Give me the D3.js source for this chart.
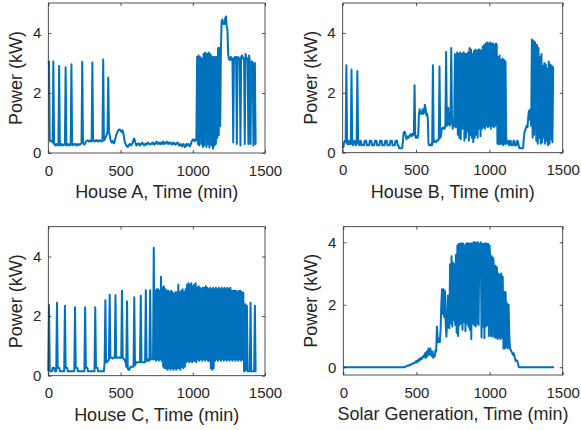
<!DOCTYPE html>
<html><head><meta charset="utf-8">
<script src="https://cdn.jsdelivr.net/npm/d3@7"></script>
<style>body{margin:0;background:#fff}svg{display:block}</style>
</head><body>
<script>
// sampling step of every series (minutes)
const timeStepMin = 5;
const xTicks = [0, 500, 1000, 1500];
const yTicks = [0, 2, 4];
const yLabel = "Power (kW)";
const panelTitles = ["House A, Time (min)", "House B, Time (min)", "House C, Time (min)", "Solar Generation, Time (min)"];

// one value every 5 min, t = 0 ... 1440 (each row = 1 hour)
const houseA = [
3.0,3.05,0.4,0.42,0.4,0.38,0.35,3.06,0.3,0.28,0.25,0.3,
0.28,0.25,0.3,2.9,0.27,0.25,0.3,0.28,0.25,0.26,0.3,0.28,
2.86,0.25,0.27,0.3,0.28,0.25,0.3,0.27,2.96,0.28,0.26,0.3,
0.28,0.3,0.27,0.25,0.3,0.28,0.26,0.3,0.28,0.3,0.33,3.04,
0.35,0.3,0.28,0.32,0.38,0.4,0.42,0.4,0.38,0.42,0.4,0.38,
0.4,3.02,0.42,0.4,0.38,0.42,0.4,0.43,0.4,0.38,0.42,0.4,
0.42,0.4,0.38,0.42,3.12,0.42,0.45,0.5,0.55,0.62,0.72,2.52,
0.7,0.6,0.45,0.38,0.35,0.4,0.35,0.32,0.4,0.5,0.6,0.65,
0.72,0.75,0.78,0.78,0.75,0.72,0.7,0.75,0.65,0.5,0.35,0.3,
0.25,0.22,0.2,0.25,0.28,0.3,0.25,0.28,0.3,0.35,0.45,0.48,
0.4,0.3,0.25,0.3,0.28,0.32,0.3,0.25,0.28,0.32,0.35,0.3,
0.28,0.25,0.3,0.32,0.28,0.3,0.35,0.32,0.3,0.28,0.3,0.33,
0.3,0.35,0.32,0.28,0.3,0.35,0.38,0.33,0.3,0.35,0.32,0.3,
0.35,0.33,0.3,0.38,0.35,0.3,0.32,0.35,0.38,0.33,0.3,0.35,
0.32,0.35,0.3,0.28,0.33,0.35,0.3,0.32,0.28,0.3,0.33,0.35,
0.3,0.25,0.28,0.3,0.25,0.22,0.28,0.3,0.25,0.2,0.22,0.3,
0.25,0.28,0.3,0.25,0.22,0.28,0.35,0.4,0.45,0.42,0.45,0.4,
0.42,0.45,3.2,0.3,3.25,0.25,3.2,3.18,0.3,3.15,0.2,3.3,
0.25,3.35,3.3,0.2,3.3,0.3,3.35,0.18,3.3,3.25,0.25,3.2,
0.15,3.2,0.25,3.2,0.3,3.2,0.5,3.5,0.6,3.5,0.9,3.55,
4.4,4.45,4.3,4.35,4.3,4.5,4.55,4.2,4.1,3.3,3.15,3.1,
3.15,3.2,3.1,3.15,0.35,3.1,3.2,3.15,3.2,0.3,3.1,3.2,
3.15,3.1,0.25,3.2,3.25,3.2,3.15,3.1,0.3,3.3,3.2,3.15,
3.1,0.3,3.25,3.05,0.3,3.0,3.05,3.0,0.25,2.95,3.0,0.3,
0.3];

const houseB = [
0.15,0.2,0.35,0.4,0.35,2.92,0.3,0.28,0.4,0.3,0.28,0.3,
2.78,0.3,0.25,0.38,0.4,0.3,0.25,0.3,2.73,0.4,0.3,0.25,
0.4,0.38,0.25,0.25,0.25,0.25,0.4,0.4,0.4,0.25,0.25,0.25,
0.25,0.4,0.4,0.4,0.25,0.25,0.25,0.25,0.4,0.4,0.4,0.25,
0.25,0.25,0.25,0.4,0.4,0.4,0.25,0.25,0.25,0.25,0.4,0.4,
0.4,0.25,0.25,0.25,0.25,0.4,0.4,0.4,0.25,0.25,0.25,0.25,
0.4,0.4,0.4,0.25,0.25,0.15,0.15,0.15,0.15,0.15,0.35,0.65,
0.7,0.68,0.55,0.45,0.5,0.55,0.5,0.55,0.6,0.62,0.55,0.6,
0.65,0.6,2.25,0.55,0.5,0.55,0.5,0.6,1.3,1.45,1.3,1.35,
1.3,1.45,1.3,1.35,1.6,1.5,1.25,1.3,1.15,0.3,0.25,0.25,
0.25,0.3,0.25,2.92,0.35,0.4,0.38,0.35,0.4,0.42,0.4,0.45,
2.88,0.5,0.55,0.8,0.82,0.8,0.85,0.8,0.9,3.37,0.9,1.0,
1.5,0.95,0.9,1.0,3.5,1.2,0.8,1.0,0.9,3.3,0.85,1.0,
3.35,0.6,3.3,0.5,3.35,0.45,3.3,0.8,3.3,3.35,0.4,3.3,
0.5,3.3,0.7,3.35,0.4,3.5,0.6,3.45,0.5,3.3,0.35,3.4,
0.5,3.45,0.6,3.4,0.5,3.45,0.8,3.45,0.55,3.4,0.8,3.55,
0.85,3.6,0.8,3.65,0.9,3.68,0.85,3.65,0.9,3.68,0.8,3.65,
0.9,3.65,0.85,3.6,0.9,3.65,3.6,0.3,3.2,0.28,3.25,0.3,
3.1,0.3,3.15,0.25,3.1,0.3,3.05,0.3,0.35,0.4,0.3,0.25,
0.4,0.4,0.25,0.25,0.25,0.4,0.4,0.25,0.25,0.25,0.4,0.38,
0.25,0.15,0.15,0.15,0.15,0.15,0.15,0.5,0.7,0.75,0.85,0.9,
0.85,1.2,1.4,1.1,1.45,0.9,3.78,0.5,3.75,0.6,3.7,3.6,
0.4,3.6,0.3,3.5,0.5,3.2,0.3,3.3,0.35,2.9,0.5,3.0,
0.3,2.95,0.4,2.8,0.25,3.05,0.3,2.95,0.45,2.9,0.35,2.85,
2.85];

const houseC = [
0.15,2.37,0.15,0.15,0.15,0.15,0.27,0.27,0.27,0.15,0.15,0.15,
2.45,0.27,0.27,0.27,0.15,0.15,0.15,0.15,0.15,0.15,0.15,2.35,
0.27,0.27,0.27,0.15,0.15,0.15,0.15,0.15,0.15,0.15,0.15,0.15,
0.15,2.3,0.27,0.27,0.27,0.15,0.15,0.15,0.15,0.15,0.15,0.15,
0.15,0.15,0.15,2.3,0.27,0.27,0.27,0.15,0.15,0.15,0.15,0.15,
0.15,0.15,0.15,0.15,0.15,2.3,0.27,0.27,0.27,0.15,0.15,0.15,
0.15,0.15,0.15,0.15,0.15,0.15,0.45,2.53,0.45,0.45,0.5,0.5,
0.55,2.72,0.6,0.6,0.6,0.58,0.6,0.6,0.6,2.7,0.6,0.62,
0.6,0.6,0.62,0.6,0.6,0.6,2.85,0.6,0.58,0.55,0.5,0.45,
0.3,2.5,0.25,0.2,0.2,0.25,0.3,0.3,0.3,0.3,0.3,2.63,
0.35,0.4,0.45,0.45,0.45,0.45,0.45,0.45,2.68,0.45,0.45,0.45,
0.45,0.45,0.45,2.87,0.5,0.5,0.55,0.5,0.5,2.87,0.55,0.55,
0.55,0.55,4.29,0.55,2.85,0.5,2.9,0.55,2.9,0.5,2.85,0.55,
3.32,0.5,2.95,0.3,3.0,0.25,2.9,0.25,2.85,0.2,2.85,0.25,
2.8,0.2,2.85,0.25,2.8,0.2,2.75,0.25,2.8,0.2,2.8,0.25,
3.05,0.25,2.8,0.2,2.85,0.3,2.9,0.25,2.8,0.3,2.9,0.45,
3.05,0.5,3.1,0.45,3.05,0.5,3.1,0.45,3.0,0.5,3.05,0.5,
3.1,0.45,2.95,0.55,3.0,0.5,2.95,0.55,2.9,0.5,2.95,0.55,
2.95,0.5,3.0,0.55,2.95,0.5,2.9,0.5,2.95,0.25,2.9,0.2,
2.95,0.25,2.9,0.5,2.95,0.55,2.9,0.5,2.95,0.55,2.9,0.5,
2.95,0.55,2.9,0.5,2.95,0.55,2.9,0.5,2.95,0.55,2.9,0.5,
2.95,0.55,2.85,0.5,2.85,0.55,2.85,0.5,2.85,0.55,2.8,0.5,
2.85,0.55,2.85,0.5,2.8,0.55,2.78,0.15,0.15,2.4,0.2,2.35,
0.15,0.15,0.15,0.15,2.45,0.15,0.15,0.15,0.15,0.15,2.35,0.15,
0.15];

const solarGen = [
0,0,0,0,0,0,0,0,0,0,0,0,
0,0,0,0,0,0,0,0,0,0,0,0,
0,0,0,0,0,0,0,0,0,0,0,0,
0,0,0,0,0,0,0,0,0,0,0,0,
0,0,0,0,0,0,0,0,0,0,0,0,
0,0,0,0,0,0,0,0,0,0,0,0,
0,0,0,0,0,0,0,0,0,0,0,0,
0,0.02,0.03,0.05,0.05,0.06,0.05,0.08,0.07,0.1,0.1,0.12,
0.13,0.12,0.15,0.18,0.2,0.15,0.22,0.25,0.2,0.28,0.3,0.25,
0.3,0.35,0.32,0.4,0.45,0.3,0.5,0.35,0.55,0.6,0.4,0.6,
0.45,0.35,0.5,0.3,0.4,0.35,0.55,0.5,1.3,0.95,0.8,0.9,
0.8,1.2,2.0,2.5,1.7,2.5,1.6,2.45,1.4,0.98,1.5,2.3,
1.3,1.25,3.3,1.4,3.55,1.3,3.35,1.5,3.3,1.35,3.6,1.1,
3.9,1.0,3.95,1.35,3.95,1.4,3.97,1.2,3.95,1.45,3.9,1.15,
3.95,1.4,3.98,1.3,3.95,1.2,3.97,0.9,3.95,1.4,4.0,1.35,
4.0,1.3,3.98,1.4,4.0,1.35,3.95,2.9,4.0,0.95,3.95,1.3,
3.95,0.93,3.97,1.3,3.95,1.35,3.95,1.0,3.9,3.5,1.0,3.55,
0.98,3.5,3.2,0.95,3.25,0.95,3.2,0.9,3.0,0.95,2.95,0.9,
3.0,0.95,2.9,0.6,2.42,0.6,2.4,0.65,2.05,0.6,2.0,1.0,
0.6,0.55,0.5,0.45,0.4,0.45,0.35,0.25,0.2,0.22,0.2,0.1,
0,0,0,0,0,0,0,0,0,0,0,0,
0,0,0,0,0,0,0,0,0,0,0,0,
0,0,0,0,0,0,0,0,0,0,0,0,
0,0,0,0,0,0,0,0,0,0,0,0,
0];

const series = [houseA, houseB, houseC, solarGen];
const yDomains = [[0,5],[0,5],[0,5],[-0.25,4.5]];

// layout (pixels)
const layout = [
  {left:48.3, right:265, top:3, bottom:153},
  {left:342.7, right:562.7, top:3, bottom:152.7},
  {left:48.3, right:265, top:226.7, bottom:375.7},
  {left:343.3, right:562.7, top:226.7, bottom:375}
];

const W = 581, H = 430;
const FONT = "'Liberation Sans', Arial, Helvetica, sans-serif";
const INK = "#262626";
const svg = d3.select("body").append("svg").attr("width", W).attr("height", H)
  .style("font-family", FONT);

series.forEach((data, k) => {
  const L = layout[k];
  const x = d3.scaleLinear().domain([0, 1500]).range([L.left, L.right]);
  const y = d3.scaleLinear().domain(yDomains[k]).range([L.bottom, L.top]);
  const g = svg.append("g");

  const line = d3.line().x((d, i) => x(i * timeStepMin)).y(d => y(d));
  g.append("path").datum(data).attr("d", line)
    .attr("fill", "none").attr("stroke", "#0072BD")
    .attr("stroke-width", 2).attr("stroke-linejoin", "round");

  const style = sel => {
    sel.select(".domain").remove();
    sel.selectAll(".tick line").attr("stroke", INK).attr("stroke-width", 0.8);
    sel.selectAll("text").attr("fill", INK).style("font-size", "15px").style("font-family", FONT);
  };
  g.append("g").attr("transform", `translate(0,${L.bottom})`)
    .call(d3.axisBottom(x).tickValues(xTicks).tickSizeInner(-3).tickSizeOuter(0).tickPadding(12).tickFormat(d3.format("d")))
    .call(style);
  g.append("g").attr("transform", `translate(0,${L.top})`)
    .call(d3.axisTop(x).tickValues(xTicks).tickSizeInner(-3).tickSizeOuter(0).tickFormat(""))
    .call(style);
  g.append("g").attr("transform", `translate(${L.left},0)`)
    .call(d3.axisLeft(y).tickValues(yTicks).tickSizeInner(-3).tickSizeOuter(0).tickPadding(7).tickFormat(d3.format("d")))
    .call(style);
  g.append("g").attr("transform", `translate(${L.right},0)`)
    .call(d3.axisRight(y).tickValues(yTicks).tickSizeInner(-3).tickSizeOuter(0).tickFormat(""))
    .call(style);

  g.append("rect").attr("x", L.left).attr("y", L.top)
    .attr("width", L.right - L.left).attr("height", L.bottom - L.top)
    .attr("fill", "none").attr("stroke", INK).attr("stroke-width", 0.8);

  g.append("text").attr("x", (L.left + L.right) / 2).attr("y", L.bottom + 45)
    .attr("text-anchor", "middle").attr("fill", INK).style("font-size", "18px")
    .text(panelTitles[k]);
  const cy = (L.top + L.bottom) / 2, cx = L.left - 26;
  g.append("text").attr("transform", `translate(${cx},${cy}) rotate(-90)`)
    .attr("text-anchor", "middle").attr("fill", INK).style("font-size", "18px")
    .text(yLabel);
});
</script>
</body></html>
